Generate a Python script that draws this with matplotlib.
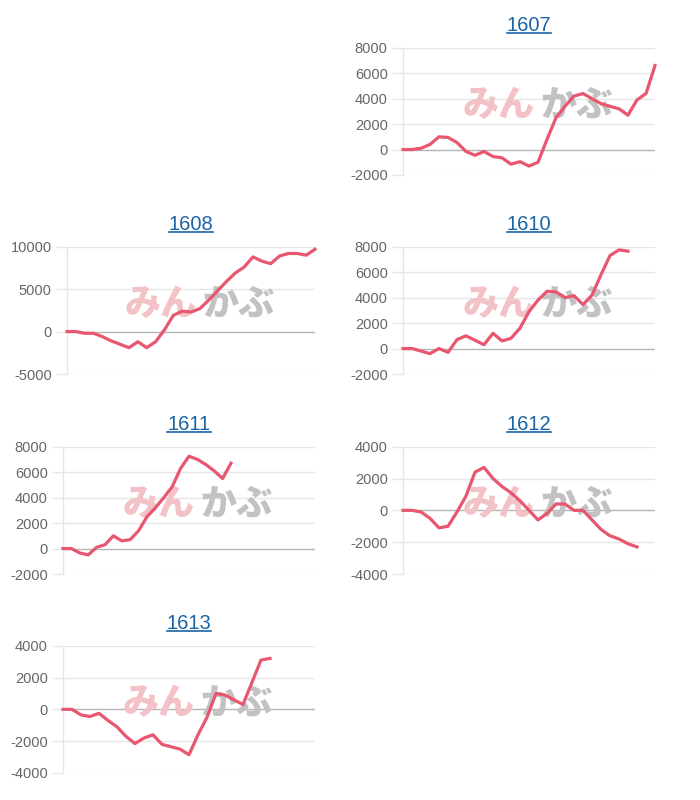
import matplotlib
matplotlib.use("Agg")
import matplotlib.pyplot as plt
from matplotlib.lines import Line2D

plt.rcParams['font.family'] = ['Liberation Sans', 'DejaVu Sans']

# titles of the panels
names = ["1607", "1608", "1610", "1611", "1612", "1613"]

# daily cumulative values
p1607 = [0, 0, 100, 400, 1000, 950, 550, -150, -450, -150, -550, -650, -1150, -950,
         -1300, -1000, 800, 2500, 3400, 4200, 4400, 4000, 3600, 3400, 3200, 2700,
         3900, 4400, 6600]
p1608 = [0, 0, -200, -200, -600, -1100, -1500, -1900, -1200, -1900, -1200, 200, 1900,
         2400, 2300, 2700, 3700, 4800, 5900, 6900, 7600, 8800, 8300, 8000, 8900, 9200,
         9200, 9000, 9700]
p1610 = [0, 0, -200, -400, 0, -300, 700, 1000, 650, 300, 1200, 600, 800, 1600, 2900,
         3800, 4500, 4450, 4000, 4150, 3450, 4200, 5800, 7300, 7750, 7650]
p1611 = [0, 0, -350, -500, 100, 300, 1000, 600, 700, 1400, 2500, 3200, 4000, 4850,
         6300, 7250, 7000, 6600, 6100, 5500, 6700]
p1612 = [0, 0, -100, -500, -1100, -1000, -100, 900, 2400, 2700, 2000, 1500, 1100, 600,
         0, -600, -200, 400, 400, 0, 0, -600, -1200, -1600, -1800, -2100, -2300]
p1613 = [0, 0, -350, -450, -250, -700, -1100, -1700, -2150, -1800, -1600, -2200,
         -2350, -2500, -2850, -1600, -500, 1000, 900, 600, 300, 1700, 3100, 3200]

series = [p1607, p1608, p1610, p1611, p1612, p1613]
# number of days on each x axis
days = [29, 29, 29, 31, 29, 29]
# y ticks of each panel
yticks = [
    [-2000, 0, 2000, 4000, 6000, 8000],
    [-5000, 0, 5000, 10000],
    [-2000, 0, 2000, 4000, 6000, 8000],
    [-2000, 0, 2000, 4000, 6000, 8000],
    [-4000, -2000, 0, 2000, 4000],
    [-4000, -2000, 0, 2000, 4000],
]

# axes boxes in pixels: left, right, top, bottom
boxes = [
    (403, 655, 47.7, 175),
    (67, 315, 246.7, 374),
    (403, 655, 246.7, 374),
    (63, 315, 446.7, 574),
    (403, 655, 446.7, 574),
    (63, 315, 645.7, 773),
]

W, H = 700, 800
LINE = "#e8566f"
GRID = "#e6e6e6"
ZERO = "#b5b5b5"

fig = plt.figure(figsize=(W / 100, H / 100), dpi=100)
fig.patch.set_facecolor("white")

titles = []
for name, vals, n, ticks, box in zip(names, series, days, yticks, boxes):
    l, r, t, b = box
    ax = fig.add_axes([l / W, 1 - b / H, (r - l) / W, (b - t) / H])
    ax.set_xlim(0, n - 1)
    ax.set_ylim(ticks[0], ticks[-1])
    ax.set_yticks(ticks)
    ax.set_yticklabels([str(v) for v in ticks])
    ax.set_xticks([])
    for s in ["top", "right", "bottom"]:
        ax.spines[s].set_visible(False)
    ax.spines["left"].set_color(GRID)
    ax.spines["left"].set_linewidth(1)
    ax.tick_params(axis="y", length=8, width=1, color=GRID, labelcolor="#666666",
                   labelsize=10.5, pad=3)
    for v in ticks:
        ax.axhline(v, color=ZERO if v == 0 else GRID, lw=1, zorder=1)
    for v, tk in zip(ticks, ax.yaxis.get_major_ticks()):
        if v == 0:
            tk.tick1line.set_color(ZERO)

    # watermark
    ax.text(0.525, 0.55, "みん", transform=ax.transAxes, ha="right", va="center",
            fontsize=26, fontweight="heavy", color="#f2c2c7",
            family=["Noto Sans CJK JP", "DejaVu Sans"], zorder=2)
    ax.text(0.545, 0.55, "かぶ", transform=ax.transAxes, ha="left", va="center",
            fontsize=26, fontweight="heavy", color="#c2c2c2",
            family=["Noto Sans CJK JP", "DejaVu Sans"], zorder=2)

    ax.plot(range(len(vals)), vals, color=LINE, lw=2.3, solid_joinstyle="round",
            zorder=3, clip_on=False)

    tt = ax.text(0.5, 1 + 17 / (b - t), name, transform=ax.transAxes, ha="center",
                 va="baseline", fontsize=14.5, color="#1a64a6")
    titles.append((ax, tt))

# underline the titles like links
fig.canvas.draw()
rend = fig.canvas.get_renderer()
for ax, tt in titles:
    bb = tt.get_window_extent(rend)
    x, y = ax.transAxes.transform(tt.get_position())
    y0 = y - 2.5
    p0 = fig.transFigure.inverted().transform((bb.x0, y0))
    p1 = fig.transFigure.inverted().transform((bb.x1, y0))
    fig.add_artist(Line2D([p0[0], p1[0]], [p0[1], p1[1]], color="#1a64a6", lw=1.2,
                          transform=fig.transFigure))

fig.savefig("out.png", dpi=100)
